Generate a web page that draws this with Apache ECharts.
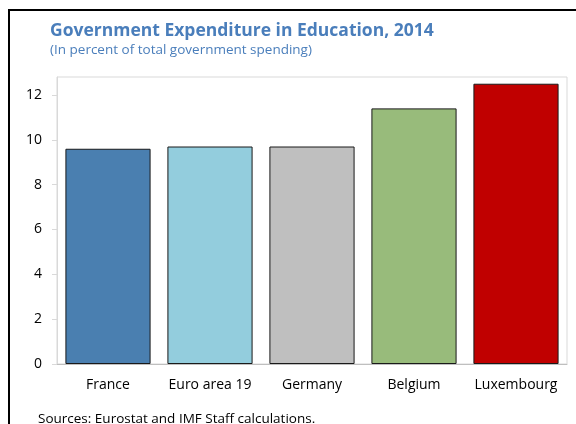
<!DOCTYPE html>
<html><head><meta charset="utf-8">
<script src="https://cdn.jsdelivr.net/npm/echarts@6/dist/echarts.min.js"></script>
<style>html,body{margin:0;padding:0;background:#fff}#c{width:576px;height:424px}</style>
</head><body><div id="c"></div>
<script>
const categories = ['France', 'Euro area 19', 'Germany', 'Belgium', 'Luxembourg'];
const values = [9.6, 9.7, 9.7, 11.4, 12.5];
const barColors = ['#4a7fb0', '#93cddd', '#bfbfbf', '#98bb7b', '#c00000'];
const yTicks = [0, 2, 4, 6, 8, 10, 12];

const chart = echarts.init(document.getElementById('c'));
chart.setOption({
  animation: false,
  graphic: [
    { type: 'rect', shape: { x: 9, y: 10, width: 620, height: 460 }, style: { fill: 'none', stroke: '#000', lineWidth: 2 } },
    { type: 'text', left: 50, top: 22, style: { text: 'Government Expenditure in Education, 2014', font: 'bold 17.5px "Open Sans"', fill: '#4a7ebb' } },
    { type: 'text', left: 50, top: 43, style: { text: '(In percent of total government spending)', font: '13.5px "Open Sans"', fill: '#4a7ebb' } },
    { type: 'text', left: 38, top: 412, style: { text: 'Sources: Eurostat and IMF Staff calculations.', font: '13.5px "Open Sans"', fill: '#000' } }
  ],
  grid: { left: 57, right: 9, top: 77, bottom: 60, show: true, borderColor: '#d9d9d9', borderWidth: 1 },
  xAxis: {
    type: 'category', data: categories,
    axisLine: { lineStyle: { color: '#bfbfbf' } },
    axisTick: { inside: true, length: 4, lineStyle: { color: '#bfbfbf' } },
    axisLabel: { interval: 0, hideOverlap: false, color: '#000', fontFamily: 'Open Sans', fontSize: 14, margin: 14 }
  },
  yAxis: {
    type: 'value', min: 0, max: 12.8, interval: 2,
    splitLine: { show: false },
    axisLine: { show: true, lineStyle: { color: '#d9d9d9' } },
    axisTick: { show: true, length: 5, lineStyle: { color: '#d9d9d9' } },
    axisLabel: { color: '#000', fontFamily: 'Open Sans', fontSize: 14, margin: 15, showMaxLabel: false,
      formatter: v => yTicks.includes(v) ? String(v) : '' }
  },
  series: [{
    type: 'bar', barCategoryGap: '16.5%',
    data: values.map((v, i) => ({ value: v, itemStyle: { color: barColors[i] } })),
    itemStyle: { borderColor: '#1a1a1a', borderWidth: 1 }
  }]
});
</script></body></html>
